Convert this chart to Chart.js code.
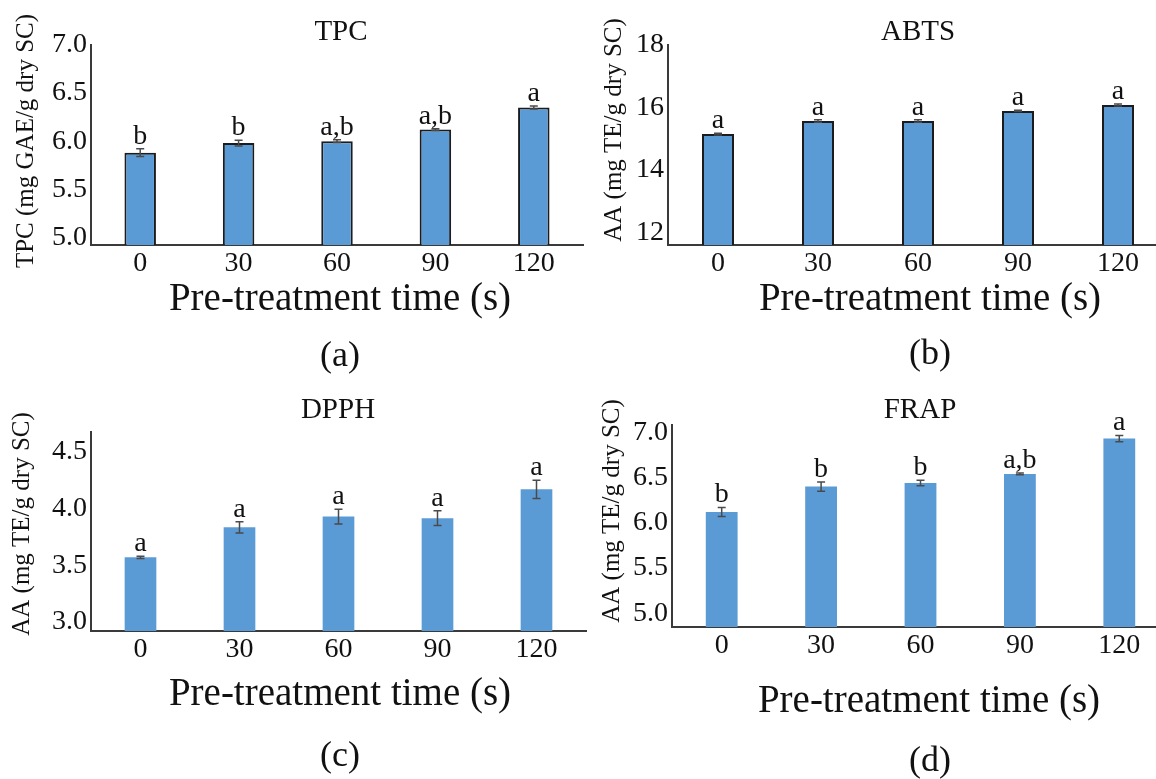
<!DOCTYPE html>
<html>
<head>
<meta charset="utf-8">
<script src="https://cdn.jsdelivr.net/npm/chart.js@4.4.1/dist/chart.umd.min.js"></script>
<style>
html, body { margin: 0; padding: 0; background: #fff; width: 1156px; height: 779px; overflow: hidden; position: relative; }
canvas { position: absolute; }
</style>
</head>
<body>
<canvas id="cA"></canvas>
<canvas id="cB"></canvas>
<canvas id="cC"></canvas>
<canvas id="cD"></canvas>
<script>
// pre-treatment times (s)
const times = ['0', '30', '60', '90', '120'];

// (a) TPC
const tpcMean = [5.88, 5.98, 6.00, 6.12, 6.35];
const tpcErr = [0.04, 0.03, 0.015, 0.01, 0.015];
const tpcLetters = ['b', 'b', 'a,b', 'a,b', 'a'];
const tpcTicks = [5.0, 5.5, 6.0, 6.5, 7.0];

// (b) ABTS
const abtsMean = [15.15, 15.57, 15.57, 15.89, 16.08];
const abtsErr = [0.03, 0.04, 0.04, 0.02, 0.03];
const abtsLetters = ['a', 'a', 'a', 'a', 'a'];
const abtsTicks = [12, 14, 16, 18];

// (c) DPPH
const dpphMean = [3.57, 3.835, 3.93, 3.915, 4.17];
const dpphErr = [0.01, 0.05, 0.065, 0.065, 0.08];
const dpphLetters = ['a', 'a', 'a', 'a', 'a'];
const dpphTicks = [3.0, 3.5, 4.0, 4.5];

// (d) FRAP
const frapMean = [6.12, 6.40, 6.44, 6.54, 6.93];
const frapErr = [0.05, 0.05, 0.03, 0.01, 0.035];
const frapLetters = ['b', 'b', 'b', 'a,b', 'a'];
const frapTicks = [5.0, 5.5, 6.0, 6.5, 7.0];

const SERIF = "'Liberation Serif', 'Times New Roman', serif";
const INK = '#111';
const BAR = '#5b9bd5';

// error bars, letters and the free text of each panel
const panelText = {
  id: 'panelText',
  afterDatasetsDraw(chart) {
    const p = chart.options.plugins.panelText;
    const ctx = chart.ctx;
    const y = chart.scales.y;
    const meta = chart.getDatasetMeta(0);
    ctx.save();
    ctx.strokeStyle = '#4a4a4a';
    ctx.lineWidth = 1.5;
    meta.data.forEach((bar, i) => {
      const top = y.getPixelForValue(p.mean[i] + p.err[i]);
      const bot = y.getPixelForValue(p.mean[i] - p.err[i]);
      ctx.beginPath();
      ctx.moveTo(bar.x, top); ctx.lineTo(bar.x, bot);
      ctx.moveTo(bar.x - 4, top); ctx.lineTo(bar.x + 4, top);
      ctx.moveTo(bar.x - 4, bot); ctx.lineTo(bar.x + 4, bot);
      ctx.stroke();
      ctx.fillStyle = INK;
      ctx.font = '28px ' + SERIF;
      ctx.textAlign = 'center';
      ctx.textBaseline = 'alphabetic';
      ctx.fillText(p.letters[i], bar.x, top - 5);
    });
    ctx.restore();
  },
  afterDraw(chart) {
    const p = chart.options.plugins.panelText;
    const ctx = chart.ctx;
    const ox = p.box.x, oy = p.box.y;
    ctx.save();
    ctx.fillStyle = INK;
    ctx.textAlign = 'center';
    ctx.textBaseline = 'middle';
    ctx.font = '29px ' + SERIF;
    ctx.fillText(p.title, p.titlePos[0] - ox, p.titlePos[1] - oy);
    ctx.font = '39px ' + SERIF;
    ctx.fillText('Pre-treatment time (s)', p.xTitlePos[0] - ox, p.xTitlePos[1] - oy);
    ctx.font = '36px ' + SERIF;
    ctx.fillText(p.tag, p.tagPos[0] - ox, p.tagPos[1] - oy);
    ctx.translate(p.yTitlePos[0] - ox, p.yTitlePos[1] - oy);
    ctx.rotate(-Math.PI / 2);
    ctx.font = '25px ' + SERIF;
    ctx.fillText(p.yTitle, 0, 0);
    ctx.restore();
  }
};

function makePanel(id, box, area, mean, err, letters, ticks, yMin, yMax, digits, outlined, text) {
  const el = document.getElementById(id);
  el.style.left = box.x + 'px';
  el.style.top = box.y + 'px';
  el.style.width = box.w + 'px';
  el.style.height = box.h + 'px';
  el.width = box.w;
  el.height = box.h;
  return new Chart(el, {
    type: 'bar',
    data: {
      labels: times,
      datasets: [{
        data: mean,
        backgroundColor: BAR,
        borderColor: outlined ? '#1c1c1c' : BAR,
        borderWidth: outlined ? 2 : 0,
        categoryPercentage: 1,
        barPercentage: 0.32
      }]
    },
    options: {
      responsive: false,
      animation: false,
      layout: { padding: { left: 0, top: area.t - box.y, right: box.x + box.w - area.r, bottom: 0 } },
      plugins: {
        legend: { display: false },
        tooltip: { enabled: false },
        panelText: Object.assign({ box, mean, err, letters }, text)
      },
      scales: {
        x: {
          grid: { display: false, drawTicks: false },
          border: { display: true, color: '#3a3a3a', width: 2 },
          ticks: { color: INK, font: { family: SERIF, size: 28 }, padding: 2 },
          afterFit: s => { s.height = box.y + box.h - area.b; }
        },
        y: {
          min: yMin,
          max: yMax,
          grid: { display: false, drawTicks: false },
          border: { display: true, color: '#3a3a3a', width: 2 },
          ticks: {
            color: INK,
            font: { family: SERIF, size: 28 },
            padding: 4,
            callback: v => v.toFixed(digits)
          },
          afterBuildTicks: s => { s.ticks = ticks.map(v => ({ value: v })); },
          afterFit: s => { s.width = area.l - box.x; }
        }
      }
    },
    plugins: [panelText]
  });
}

makePanel('cA', { x: 0, y: 0, w: 590, h: 390 }, { l: 91, t: 45, r: 583, b: 245 },
  tpcMean, tpcErr, tpcLetters, tpcTicks, 4.92, 7.0, 1, true,
  { title: 'TPC', titlePos: [341, 32], yTitle: 'TPC (mg GAE/g dry SC)', yTitlePos: [26, 141],
    xTitlePos: [340, 300], tag: '(a)', tagPos: [340, 357] });

makePanel('cB', { x: 580, y: 0, w: 600, h: 390 }, { l: 668, t: 45, r: 1168, b: 245 },
  abtsMean, abtsErr, abtsLetters, abtsTicks, 11.6, 18, 0, true,
  { title: 'ABTS', titlePos: [918, 32], yTitle: 'AA (mg TE/g dry SC)', yTitlePos: [614, 130],
    xTitlePos: [930, 300], tag: '(b)', tagPos: [930, 355] });

makePanel('cC', { x: 0, y: 385, w: 590, h: 394 }, { l: 91, t: 432, r: 586, b: 631 },
  dpphMean, dpphErr, dpphLetters, dpphTicks, 2.92, 4.676, 1, false,
  { title: 'DPPH', titlePos: [338, 410], yTitle: 'AA (mg TE/g dry SC)', yTitlePos: [22, 524],
    xTitlePos: [340, 695], tag: '(c)', tagPos: [340, 757] });

makePanel('cD', { x: 580, y: 385, w: 600, h: 394 }, { l: 672, t: 425, r: 1169, b: 627 },
  frapMean, frapErr, frapLetters, frapTicks, 4.85, 7.08, 1, false,
  { title: 'FRAP', titlePos: [920, 410], yTitle: 'AA (mg TE/g dry SC)', yTitlePos: [612, 511],
    xTitlePos: [929, 702], tag: '(d)', tagPos: [930, 762] });
</script>
</body>
</html>
